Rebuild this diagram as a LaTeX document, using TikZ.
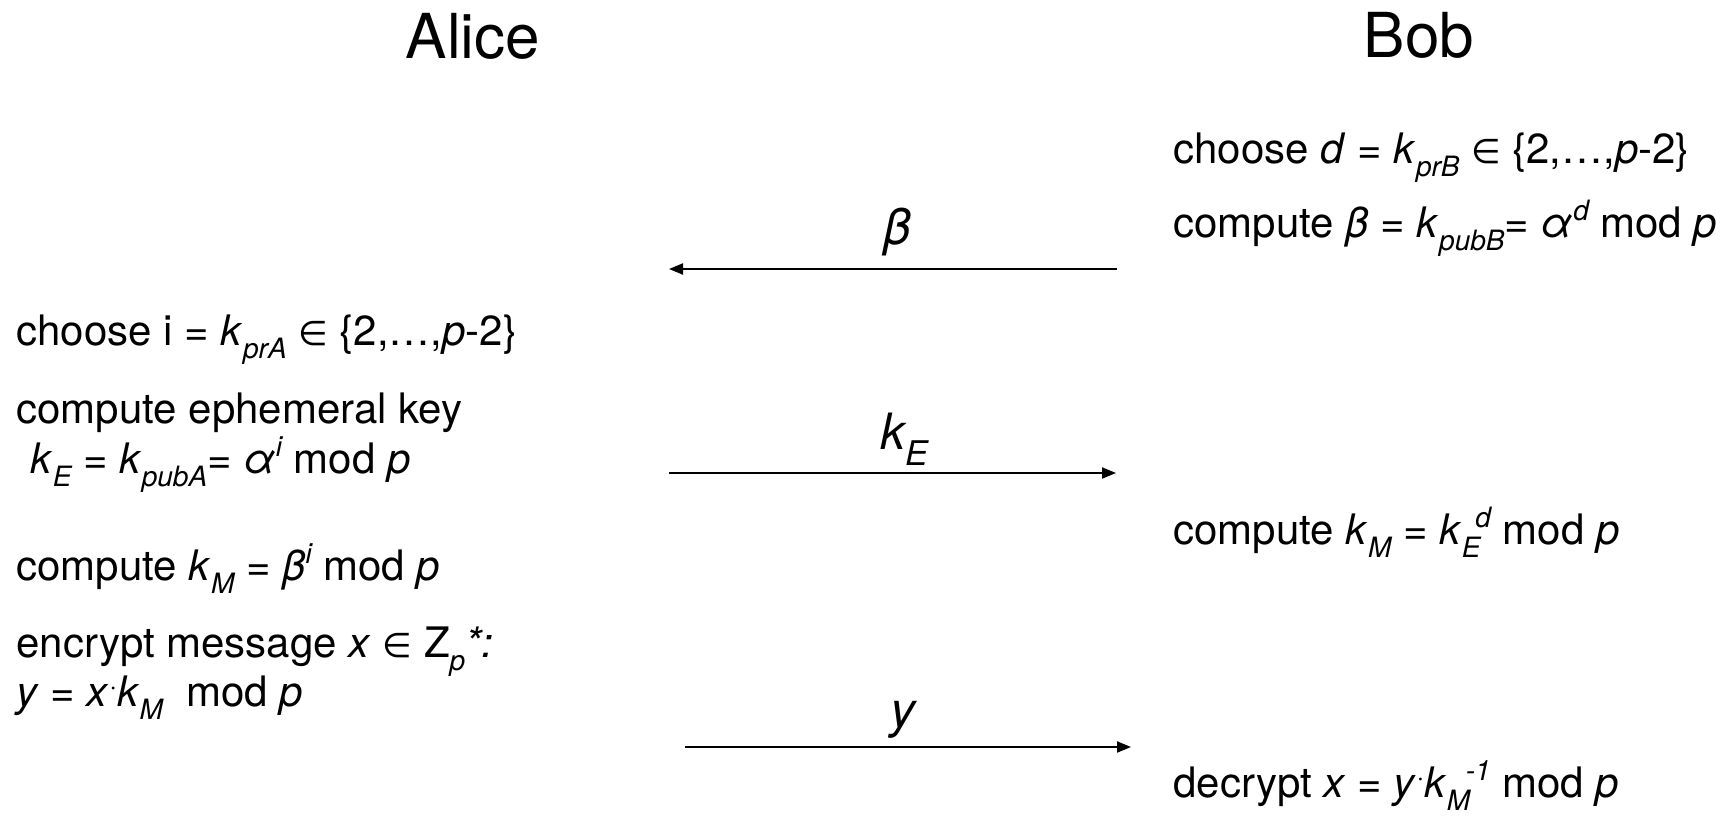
\documentclass[tikz,border=0pt]{standalone}
\usepackage{fontspec}
\setmainfont{TeX Gyre Heros}
\newfontfamily\djv{DejaVu Sans}
\usetikzlibrary{arrows.meta}
\newcommand\elt{{\fontsize{17}{17}\djv ∈}}
\newcommand\lo[1]{\raisebox{-0.32em}{\fontsize{14}{14}\selectfont\itshape #1}}
\newcommand\hi[1]{\raisebox{0.4em}{\fontsize{14}{14}\selectfont\itshape #1}}
\newcommand\lob[1]{\raisebox{-0.32em}{\fontsize{17}{17}\selectfont\itshape #1}}
\newcommand\mdot{\raisebox{0.25em}{\fontsize{14}{14}\selectfont ·}}
\begin{document}
\begin{tikzpicture}[x=0.5pt,y=-0.5pt,
  txt/.style={anchor=base west,inner sep=0pt,font=\fontsize{21}{25}\selectfont},
  ttl/.style={anchor=base,inner sep=0pt,font=\fontsize{31}{36}\selectfont},
  lbl/.style={anchor=base,inner sep=0pt,font=\fontsize{25}{30}\selectfont\itshape},
  msg/.style={line width=1pt,-{Triangle[length=7pt,width=5.5pt]}}]
\useasboundingbox (0,0) rectangle (1726,815);
% titles
\node[ttl] (alice) at (473,58) {Alice};
\node[ttl] (bob) at (1419,57) {Bob};
% Bob side
\node[txt] (b1) at (1173,163) {choose \textit{d} = \textit{k}\lo{prB} \elt{} \{2,…,\textit{p}-2\}};
\node[txt] (b2) at (1173,237) {compute \textit{β} = \textit{k}\lo{pubB}= \textit{α}\hi{d} mod \textit{p}};
\node[txt] (b3) at (1173,544) {compute \textit{k}\lo{M} = \textit{k}\lo{E}\kern-0.12em\hi{d} mod \textit{p}};
\node[txt] (b4) at (1173,797) {decrypt \textit{x} = \textit{y}\mdot\textit{k}\lo{M}\kern-0.1em\hi{-1} mod \textit{p}};
% Alice side
\node[txt] (a1) at (16,345) {choose i = \textit{k}\lo{prA} \elt{} \{2,…,\textit{p}-2\}};
\node[txt] (a2) at (16,423) {compute ephemeral key};
\node[txt] (a3) at (30,473) {\textit{k}\lo{E} = \textit{k}\lo{pubA}= \textit{α}\hi{i} mod \textit{p}};
\node[txt] (a4) at (16,580) {compute \textit{k}\lo{M} = \textit{β}\hi{i} mod \textit{p}};
\node[txt] (a5) at (16,657) {encrypt message \textit{x} \elt{} Z\lo{p}\textit{*:}};
\node[txt] (a6) at (16,706) {\textit{y} = \textit{x}\mdot\textit{k}\lo{M}\ \ mod \textit{p}};
% messages
\coordinate (m1s) at (1117,269);
\coordinate (m1e) at (669,269);
\draw[msg] (m1s) -- (m1e);
\node[lbl] (l1) at (897,244) {β};
\coordinate (m2s) at (669,473);
\coordinate (m2e) at (1116,473);
\draw[msg] (m2s) -- (m2e);
\node[lbl] (l2) at (904,449) {k\lob{E}};
\coordinate (m3s) at (685,747);
\coordinate (m3e) at (1131,747);
\draw[msg] (m3s) -- (m3e);
\node[lbl] (l3) at (903,727) {y};
\end{tikzpicture}
\end{document}
